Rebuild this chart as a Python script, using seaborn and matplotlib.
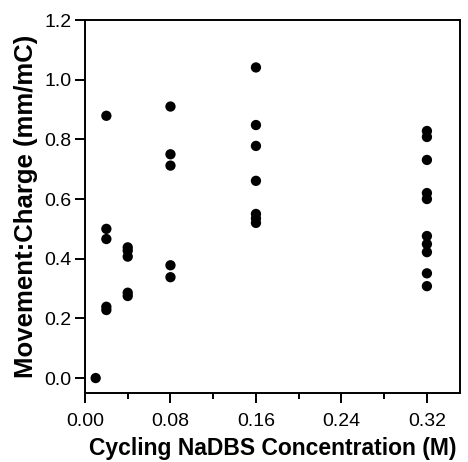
import matplotlib
matplotlib.use("Agg")
import matplotlib.pyplot as plt
import seaborn as sns
import pandas as pd
from matplotlib.ticker import MultipleLocator

sns.set_theme(style="ticks")
plt.rcParams['font.family'] = ['Liberation Sans', 'DejaVu Sans']
plt.rcParams['text.color'] = 'black'
plt.rcParams['axes.labelcolor'] = 'black'

conc_001 = [0.01]
vals_001 = [0.0]
conc_002 = [0.02] * 5
vals_002 = [0.879, 0.50, 0.466, 0.239, 0.228]
conc_004 = [0.04] * 5
vals_004 = [0.438, 0.427, 0.407, 0.286, 0.275]
conc_008 = [0.08] * 5
vals_008 = [0.91, 0.75, 0.712, 0.378, 0.338]
conc_016 = [0.16] * 7
vals_016 = [1.041, 0.848, 0.778, 0.661, 0.55, 0.535, 0.52]
conc_032 = [0.32] * 10
vals_032 = [0.828, 0.808, 0.731, 0.62, 0.60, 0.476, 0.449, 0.422, 0.351, 0.308]

x = conc_001 + conc_002 + conc_004 + conc_008 + conc_016 + conc_032
y = vals_001 + vals_002 + vals_004 + vals_008 + vals_016 + vals_032
df = pd.DataFrame({"conc": x, "ratio": y})

x_ticks = [0.00, 0.08, 0.16, 0.24, 0.32]
x_tick_labels = ["0.00", "0.08", "0.16", "0.24", "0.32"]
y_ticks = [0.0, 0.2, 0.4, 0.6, 0.8, 1.0, 1.2]
y_tick_labels = ["0.0", "0.2", "0.4", "0.6", "0.8", "1.0", "1.2"]

fig = plt.figure(figsize=(4.68, 4.62), dpi=100)
ax = fig.add_axes([0.1816, 0.1494, 0.8014, 0.8073])
sns.scatterplot(data=df, x="conc", y="ratio", ax=ax, color="black",
                s=55, edgecolor="none", linewidth=0)

ax.set_xlim(0.0, 0.351)
ax.set_ylim(-0.05, 1.2)
ax.set_xticks(x_ticks)
ax.set_xticklabels(x_tick_labels)
ax.xaxis.set_minor_locator(MultipleLocator(0.04))
ax.set_yticks(y_ticks)
ax.set_yticklabels(y_tick_labels)

for s in ax.spines.values():
    s.set_linewidth(1.4)
    s.set_color("black")
ax.tick_params(axis="both", which="major", direction="out", length=7.5,
               width=1.4, labelsize=14, colors="black")
ax.tick_params(axis="x", which="major", pad=7)
ax.tick_params(axis="y", which="major", pad=2)
ax.tick_params(axis="x", which="minor", direction="out", length=4.5,
               width=1.4, colors="black")

ax.set_xlabel("Cycling NaDBS Concentration (M)", fontsize=16.5,
              fontweight="bold", labelpad=5, color="black")
ax.set_ylabel("Movement:Charge (mm/mC)", fontsize=18.5,
              fontweight="bold", labelpad=5, color="black")

fig.savefig("out.png", dpi=100)
